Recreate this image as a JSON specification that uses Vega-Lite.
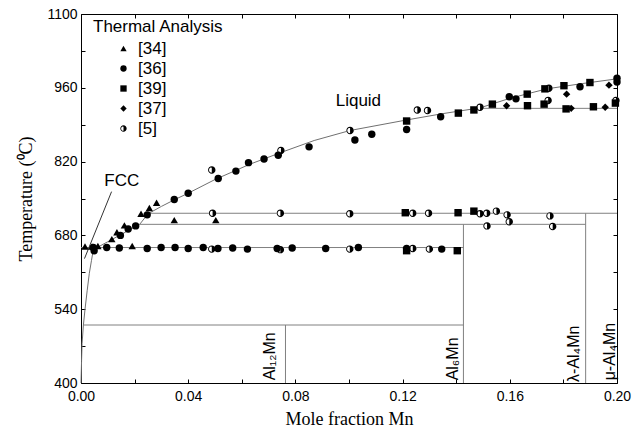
{
  "$schema": "https://vega.github.io/schema/vega-lite/v6.json",
  "width": 536,
  "height": 369,
  "autosize": {"type": "none"},
  "padding": {"left": 81, "top": 14, "right": 27, "bottom": 50},
  "background": "white",
  "datasets": {
    "boundary": [
      {"x": 0.0000, "t": 400}, {"x": 0.0002, "t": 440}, {"x": 0.0004, "t": 475},
      {"x": 0.0009, "t": 510}, {"x": 0.0015, "t": 540}, {"x": 0.0023, "t": 575},
      {"x": 0.0031, "t": 608}, {"x": 0.0039, "t": 632}, {"x": 0.0046, "t": 653},
      {"x": 0.0100, "t": 668}, {"x": 0.0147, "t": 681}, {"x": 0.0190, "t": 693},
      {"x": 0.0219, "t": 701}, {"x": 0.0250, "t": 721}, {"x": 0.0300, "t": 735},
      {"x": 0.0350, "t": 748}, {"x": 0.0400, "t": 760}, {"x": 0.0500, "t": 786},
      {"x": 0.0630, "t": 815}, {"x": 0.0750, "t": 838}, {"x": 0.0870, "t": 860},
      {"x": 0.1004, "t": 879}, {"x": 0.1215, "t": 899}, {"x": 0.1350, "t": 911},
      {"x": 0.1489, "t": 922}, {"x": 0.1600, "t": 940}, {"x": 0.1738, "t": 958},
      {"x": 0.1870, "t": 968}, {"x": 0.2000, "t": 977}
    ],
    "isotherms": [
      {"x": 0.0000, "x2": 0.1427, "t": 657, "t2": 657},
      {"x": 0.0219, "x2": 0.1883, "t": 701, "t2": 701},
      {"x": 0.0250, "x2": 0.2000, "t": 722, "t2": 722},
      {"x": 0.0009, "x2": 0.1427, "t": 510, "t2": 510},
      {"x": 0.1489, "x2": 0.2000, "t": 921, "t2": 921},
      {"x": 0.0763, "x2": 0.0763, "t": 400, "t2": 510},
      {"x": 0.1427, "x2": 0.1427, "t": 400, "t2": 701},
      {"x": 0.1883, "x2": 0.1883, "t": 400, "t2": 722}
    ],
    "pointer": [
      {"x": 0.0013, "x2": 0.0114, "t": 636, "t2": 763}
    ],
    "obs": [
      {"src": "[34]", "x": 0.0015, "t": 659}, {"src": "[34]", "x": 0.0041, "t": 659},
      {"src": "[34]", "x": 0.0063, "t": 660}, {"src": "[34]", "x": 0.0115, "t": 673},
      {"src": "[34]", "x": 0.0134, "t": 686}, {"src": "[34]", "x": 0.0162, "t": 699},
      {"src": "[34]", "x": 0.0191, "t": 660}, {"src": "[34]", "x": 0.0224, "t": 721},
      {"src": "[34]", "x": 0.0255, "t": 732}, {"src": "[34]", "x": 0.0282, "t": 742},
      {"src": "[34]", "x": 0.0348, "t": 709}, {"src": "[34]", "x": 0.0503, "t": 709},

      {"src": "[36]", "x": 0.0046, "t": 657}, {"src": "[36]", "x": 0.0049, "t": 651},
      {"src": "[36]", "x": 0.0096, "t": 657}, {"src": "[36]", "x": 0.0143, "t": 656},
      {"src": "[36]", "x": 0.0247, "t": 655}, {"src": "[36]", "x": 0.0299, "t": 657},
      {"src": "[36]", "x": 0.0351, "t": 657}, {"src": "[36]", "x": 0.0400, "t": 655},
      {"src": "[36]", "x": 0.0456, "t": 657}, {"src": "[36]", "x": 0.0511, "t": 655},
      {"src": "[36]", "x": 0.0566, "t": 656}, {"src": "[36]", "x": 0.0621, "t": 654},
      {"src": "[36]", "x": 0.0732, "t": 655}, {"src": "[36]", "x": 0.0788, "t": 656},
      {"src": "[36]", "x": 0.0913, "t": 655}, {"src": "[36]", "x": 0.1035, "t": 657},
      {"src": "[36]", "x": 0.1215, "t": 655}, {"src": "[36]", "x": 0.1346, "t": 654},
      {"src": "[36]", "x": 0.0147, "t": 680}, {"src": "[36]", "x": 0.0176, "t": 692},
      {"src": "[36]", "x": 0.0204, "t": 698}, {"src": "[36]", "x": 0.0247, "t": 719},
      {"src": "[36]", "x": 0.0348, "t": 748}, {"src": "[36]", "x": 0.0400, "t": 760},
      {"src": "[36]", "x": 0.0512, "t": 788}, {"src": "[36]", "x": 0.0578, "t": 802},
      {"src": "[36]", "x": 0.0625, "t": 818}, {"src": "[36]", "x": 0.0683, "t": 825},
      {"src": "[36]", "x": 0.0736, "t": 832}, {"src": "[36]", "x": 0.0851, "t": 848},
      {"src": "[36]", "x": 0.1022, "t": 861}, {"src": "[36]", "x": 0.1085, "t": 872},
      {"src": "[36]", "x": 0.1215, "t": 881}, {"src": "[36]", "x": 0.1342, "t": 905},
      {"src": "[36]", "x": 0.1598, "t": 943}, {"src": "[36]", "x": 0.1623, "t": 939},
      {"src": "[36]", "x": 0.1862, "t": 962}, {"src": "[36]", "x": 0.2000, "t": 978},
      {"src": "[36]", "x": 0.2000, "t": 971},

      {"src": "[39]", "x": 0.1215, "t": 897}, {"src": "[39]", "x": 0.1408, "t": 912},
      {"src": "[39]", "x": 0.1466, "t": 918}, {"src": "[39]", "x": 0.1535, "t": 929},
      {"src": "[39]", "x": 0.1665, "t": 948}, {"src": "[39]", "x": 0.1731, "t": 958},
      {"src": "[39]", "x": 0.1802, "t": 964}, {"src": "[39]", "x": 0.1899, "t": 970},
      {"src": "[39]", "x": 0.1666, "t": 926}, {"src": "[39]", "x": 0.1728, "t": 929},
      {"src": "[39]", "x": 0.1810, "t": 920}, {"src": "[39]", "x": 0.1912, "t": 924},
      {"src": "[39]", "x": 0.1994, "t": 931}, {"src": "[39]", "x": 0.1215, "t": 651},
      {"src": "[39]", "x": 0.1404, "t": 651}, {"src": "[39]", "x": 0.1210, "t": 723},
      {"src": "[39]", "x": 0.1407, "t": 723}, {"src": "[39]", "x": 0.1466, "t": 726},

      {"src": "[37]", "x": 0.1588, "t": 926}, {"src": "[37]", "x": 0.1812, "t": 948},
      {"src": "[37]", "x": 0.1829, "t": 921}, {"src": "[37]", "x": 0.1956, "t": 923},
      {"src": "[37]", "x": 0.1970, "t": 965},

      {"src": "[5]", "x": 0.0488, "t": 804}, {"src": "[5]", "x": 0.0746, "t": 841},
      {"src": "[5]", "x": 0.1004, "t": 879}, {"src": "[5]", "x": 0.1255, "t": 918},
      {"src": "[5]", "x": 0.1293, "t": 917}, {"src": "[5]", "x": 0.1489, "t": 923},
      {"src": "[5]", "x": 0.1746, "t": 959}, {"src": "[5]", "x": 0.1743, "t": 936},
      {"src": "[5]", "x": 0.1996, "t": 936},
      {"src": "[5]", "x": 0.0491, "t": 722}, {"src": "[5]", "x": 0.0744, "t": 722},
      {"src": "[5]", "x": 0.1003, "t": 721}, {"src": "[5]", "x": 0.1238, "t": 722},
      {"src": "[5]", "x": 0.1297, "t": 722}, {"src": "[5]", "x": 0.1489, "t": 721},
      {"src": "[5]", "x": 0.1514, "t": 722}, {"src": "[5]", "x": 0.1550, "t": 726},
      {"src": "[5]", "x": 0.1590, "t": 719}, {"src": "[5]", "x": 0.1598, "t": 706},
      {"src": "[5]", "x": 0.1750, "t": 717}, {"src": "[5]", "x": 0.1515, "t": 698},
      {"src": "[5]", "x": 0.1760, "t": 697},
      {"src": "[5]", "x": 0.0488, "t": 654}, {"src": "[5]", "x": 0.0744, "t": 653},
      {"src": "[5]", "x": 0.1003, "t": 654}, {"src": "[5]", "x": 0.1238, "t": 655},
      {"src": "[5]", "x": 0.1300, "t": 654}
    ],
    "regions": [
      {"label": "Liquid", "x": 0.1035, "t": 935},
      {"label": "FCC", "x": 0.0152, "t": 783}
    ],
    "phases": [
      {"label": "Al₁₂Mn", "x": 0.0705, "t": 405},
      {"label": "Al₆Mn", "x": 0.1388, "t": 405},
      {"label": "λ-Al₄Mn", "x": 0.1840, "t": 402},
      {"label": "μ-Al₄Mn", "x": 0.1974, "t": 405}
    ]
  },
  "resolve": {"axis": {"x": "independent", "y": "independent"}},
  "layer": [
    {
      "data": {"name": "boundary"},
      "mark": {"type": "line", "color": "#707070", "strokeWidth": 1},
      "encoding": {
        "x": {
          "field": "x", "type": "quantitative",
          "scale": {"domain": [0, 0.2], "nice": false, "zero": false},
          "axis": {
            "orient": "bottom",
            "values": [0, 0.02, 0.04, 0.06, 0.08, 0.1, 0.12, 0.14, 0.16, 0.18, 0.2],
            "labelExpr": "abs(datum.value * 25 - round(datum.value * 25)) < 0.01 ? format(datum.value, '.2f') : ''",
            "tickSize": -4, "tickColor": "#000", "domain": false, "grid": false,
            "labelFont": "Liberation Sans", "labelFontSize": 14, "labelColor": "#000",
            "labelPadding": 10, "labelFlush": false,
            "title": "Mole fraction Mn", "titleFont": "Liberation Serif", "titleFontSize": 18,
            "titleFontWeight": "normal", "titleColor": "#000", "titlePadding": 7
          }
        },
        "y": {
          "field": "t", "type": "quantitative",
          "scale": {"domain": [400, 1100], "nice": false, "zero": false},
          "axis": {
            "orient": "left",
            "values": [400, 470, 540, 610, 680, 750, 820, 890, 960, 1030, 1100],
            "labelExpr": "(datum.value - 400) % 140 == 0 ? format(datum.value, 'd') : ''",
            "tickSize": -4, "tickColor": "#000", "domain": false, "grid": false,
            "labelFont": "Liberation Sans", "labelFontSize": 14, "labelColor": "#000",
            "labelPadding": 8, "labelFlush": false,
            "title": "Temperature (⁰C)", "titleFont": "Liberation Serif", "titleFontSize": 18,
            "titleFontWeight": "normal", "titleColor": "#000", "titlePadding": 11
          }
        }
      }
    },
    {
      "data": {"name": "isotherms"},
      "mark": {"type": "rule", "color": "#808080", "strokeWidth": 1},
      "encoding": {
        "x": {
          "field": "x", "type": "quantitative",
          "axis": {
            "orient": "top",
            "values": [0, 0.02, 0.04, 0.06, 0.08, 0.1, 0.12, 0.14, 0.16, 0.18, 0.2],
            "labels": false, "tickSize": -4, "tickColor": "#000", "domain": false,
            "grid": false, "title": null
          }
        },
        "x2": {"field": "x2"},
        "y": {
          "field": "t", "type": "quantitative",
          "axis": {
            "orient": "right",
            "values": [400, 470, 540, 610, 680, 750, 820, 890, 960, 1030, 1100],
            "labels": false, "tickSize": -4, "tickColor": "#000", "domain": false,
            "grid": false, "title": null
          }
        },
        "y2": {"field": "t2"}
      }
    },
    {
      "data": {"name": "pointer"},
      "mark": {"type": "rule", "color": "#333", "strokeWidth": 1},
      "encoding": {
        "x": {"field": "x", "type": "quantitative", "axis": null},
        "x2": {"field": "x2"},
        "y": {"field": "t", "type": "quantitative", "axis": null},
        "y2": {"field": "t2"}
      }
    },
    {
      "data": {"name": "obs"},
      "transform": [{"filter": "datum.src == '[5]'"}],
      "mark": {"type": "point", "shape": "circle", "filled": true, "color": "#fff", "opacity": 1, "size": 55},
      "encoding": {
        "x": {"field": "x", "type": "quantitative", "axis": null},
        "y": {"field": "t", "type": "quantitative", "axis": null}
      }
    },
    {
      "data": {"name": "obs"},
      "mark": {"type": "point", "filled": true, "color": "#000", "opacity": 1, "size": 55},
      "encoding": {
        "x": {"field": "x", "type": "quantitative", "axis": null},
        "y": {"field": "t", "type": "quantitative", "axis": null},
        "shape": {
          "field": "src", "type": "nominal",
          "scale": {
            "domain": ["[34]", "[36]", "[39]", "[37]", "[5]"],
            "range": ["triangle-up", "circle", "square", "diamond",
              "M0,-1A1,1,0,0,1,0,1Z M0,-1A1,1,0,0,0,0,1L0,0.75A0.75,0.75,0,0,1,0,-0.75Z"]
          },
          "legend": {
            "title": "Thermal Analysis", "orient": "none", "legendX": 12, "legendY": 5,
            "padding": 0, "titleFont": "Liberation Sans", "titleFontSize": 17,
            "titleFontWeight": "normal", "titleColor": "#000", "titlePadding": 4,
            "labelFont": "Liberation Sans", "labelFontSize": 17, "labelColor": "#000",
            "symbolSize": 40, "symbolOffset": 22, "labelOffset": 6, "rowPadding": 2,
            "symbolFillColor": "#000", "symbolStrokeWidth": 0
          }
        }
      }
    },
    {
      "data": {"name": "regions"},
      "mark": {"type": "text", "font": "Liberation Sans", "fontSize": 17, "color": "#000", "align": "center", "baseline": "middle"},
      "encoding": {
        "x": {"field": "x", "type": "quantitative", "axis": null},
        "y": {"field": "t", "type": "quantitative", "axis": null},
        "text": {"field": "label"}
      }
    },
    {
      "data": {"name": "phases"},
      "mark": {"type": "text", "font": "Liberation Sans", "fontSize": 16, "color": "#000", "angle": 270, "align": "left", "baseline": "middle"},
      "encoding": {
        "x": {"field": "x", "type": "quantitative", "axis": null},
        "y": {"field": "t", "type": "quantitative", "axis": null},
        "text": {"field": "label"}
      }
    }
  ],
  "config": {
    "view": {"stroke": "#000", "strokeWidth": 1}
  }
}
